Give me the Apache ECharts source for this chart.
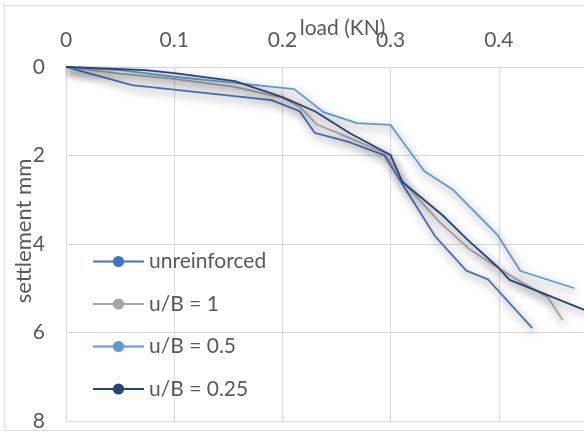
<!DOCTYPE html>
<html>
<head>
<meta charset="utf-8">
<script src="https://cdn.jsdelivr.net/npm/echarts@6/dist/echarts.min.js"></script>
<style>
html,body{margin:0;padding:0;overflow:hidden;background:#fff;width:584px;height:434px;}
#c{width:640px;height:434px;}
</style>
</head>
<body>
<div id="c"></div>
<script>
// Data: [load (KN), settlement (mm)]
const seriesNames = ['unreinforced', 'u/B = 1', 'u/B = 0.5', 'u/B = 0.25'];
const unreinforced = [[0,0],[0.061,0.41],[0.19,0.75],[0.216,1.0],[0.23,1.49],[0.262,1.7],[0.294,1.99],[0.341,3.82],[0.37,4.6],[0.39,4.8],[0.431,5.9]];
const ub1 = [[0,0],[0.05,0.15],[0.1,0.27],[0.156,0.45],[0.2,0.7],[0.216,0.9],[0.232,1.3],[0.262,1.6],[0.295,1.95],[0.31,2.55],[0.345,3.5],[0.372,4.1],[0.4,4.55],[0.42,4.85],[0.445,5.2],[0.459,5.72]];
const ub05 = [[0,0],[0.05,0.07],[0.1,0.22],[0.156,0.36],[0.211,0.5],[0.238,1.02],[0.269,1.27],[0.3,1.31],[0.331,2.35],[0.358,2.78],[0.399,3.8],[0.42,4.61],[0.47,5.0]];
const ub025 = [[0,0],[0.073,0.07],[0.1,0.14],[0.156,0.32],[0.2,0.68],[0.23,1.0],[0.262,1.49],[0.3,1.99],[0.311,2.6],[0.348,3.35],[0.371,3.9],[0.399,4.52],[0.41,4.81],[0.479,5.49]];
const seriesData = [unreinforced, ub1, ub05, ub025];
const colors = ['#4472C4', '#A5A5A5', '#5B9BD5', '#264478'];
const xTicks = {min: 0, max: 0.5, interval: 0.1};
const yTicks = {min: 0, max: 8, interval: 2};

const font = 'Lato, "Open Sans", sans-serif';
const fs = 21;
const chart = echarts.init(document.getElementById('c'), null, {renderer: 'canvas'});
chart.setOption({
  animation: false,
  backgroundColor: '#fff',
  graphic: [{
    type: 'rect', silent: true, z: -10,
    shape: {x: 4.5, y: 5.5, width: 700, height: 425},
    style: {fill: 'none', stroke: '#d9d9d9', lineWidth: 1}
  }],
  grid: {left: 66, right: 33, top: 67, bottom: 13, containLabel: false, outerBoundsMode: 'none'},
  legend: {
    orient: 'vertical', left: 92, top: 251, padding: 0,
    itemWidth: 51, itemHeight: 14, itemGap: 21.5,
    textStyle: {fontFamily: font, fontSize: fs, color: '#595959'},
    data: seriesNames
  },
  xAxis: {
    type: 'value', position: 'top',
    min: xTicks.min, max: xTicks.max, interval: xTicks.interval,
    name: 'load (KN)', nameLocation: 'middle', nameGap: 28, nameMoveOverlap: false,
    nameTextStyle: {fontFamily: font, fontSize: fs, color: '#595959', padding: [0, 0, 0, 12]},
    axisLine: {show: false}, axisTick: {show: false},
    axisLabel: {margin: 16, fontFamily: font, fontSize: fs, color: '#595959'},
    splitLine: {show: true, lineStyle: {color: '#d9d9d9', width: 1}}
  },
  yAxis: {
    type: 'value', inverse: true,
    min: yTicks.min, max: yTicks.max, interval: yTicks.interval,
    name: 'settlement mm', nameLocation: 'middle', nameGap: 31, nameMoveOverlap: false,
    nameTextStyle: {fontFamily: font, fontSize: 22, color: '#595959', padding: [0, 0, 0, 26]},
    axisLine: {show: false}, axisTick: {show: false},
    axisLabel: {margin: 21, fontFamily: font, fontSize: fs, color: '#595959'},
    splitLine: {show: true, lineStyle: {color: '#d9d9d9', width: 1}}
  },
  series: seriesNames.map((n, i) => ({
    name: n, type: 'line', data: seriesData[i],
    symbol: 'circle', symbolSize: 14, showSymbol: false,
    itemStyle: {color: colors[i]},
    lineStyle: {color: colors[i], width: 1.8,
      shadowColor: 'rgba(0,0,0,0.55)', shadowBlur: 8, shadowOffsetX: 2, shadowOffsetY: 4}
  }))
});
</script>
</body>
</html>
